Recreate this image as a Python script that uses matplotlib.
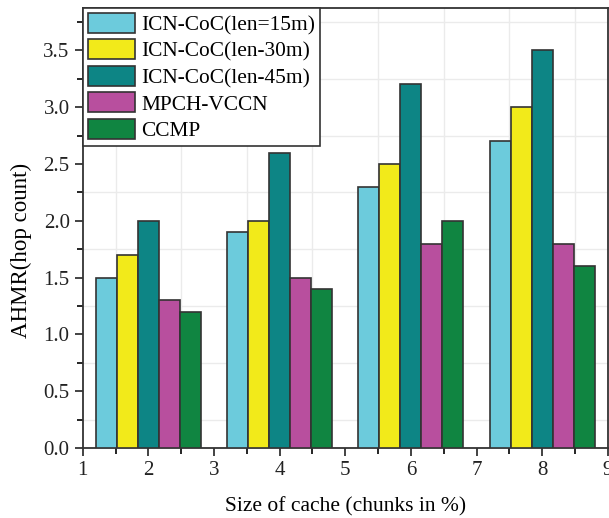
import matplotlib
matplotlib.use('Agg')
import matplotlib.pyplot as plt
import numpy as np
from matplotlib.ticker import MultipleLocator

plt.rcParams['font.family'] = ['Liberation Serif', 'DejaVu Serif']

cache_sizes = [2, 4, 6, 8]
series_names = ['ICN-CoC(len=15m)', 'ICN-CoC(len-30m)', 'ICN-CoC(len-45m)', 'MPCH-VCCN', 'CCMP']
len15 = [1.5, 1.9, 2.3, 2.7]
len30 = [1.7, 2.0, 2.5, 3.0]
len45 = [2.0, 2.6, 3.2, 3.5]
mpch = [1.3, 1.5, 1.8, 1.8]
ccmp = [1.2, 1.4, 2.0, 1.6]
colors = ['#6ccbdc', '#f2ea1a', '#0d8585', '#b84f9e', '#108541']

fig = plt.figure(figsize=(6.09, 5.18), dpi=100)
ax = fig.add_axes([0.136, 0.135, 0.862, 0.849])

width = 0.32
x = np.array(cache_sizes)
for i, (vals, name, c) in enumerate(zip([len15, len30, len45, mpch, ccmp], series_names, colors)):
    ax.bar(x + (i - 2) * width, vals, width, color=c, edgecolor='#333333',
           linewidth=1.2, label=name, zorder=3)

ax.set_xlim(1, 9)
ax.set_ylim(0, 3.87)
ax.xaxis.set_major_locator(MultipleLocator(1))
ax.xaxis.set_minor_locator(MultipleLocator(0.5))
ax.yaxis.set_major_locator(MultipleLocator(0.5))
ax.yaxis.set_minor_locator(MultipleLocator(0.25))
ax.yaxis.set_major_formatter(matplotlib.ticker.FormatStrFormatter('%.1f'))
ax.grid(which='minor', color='#ebebeb', linewidth=1.0, zorder=0)
ax.tick_params(which='major', direction='out', length=6, width=1.2, labelsize=15, colors='#222222')
ax.tick_params(which='minor', direction='out', length=4, width=1.2)

for s in ax.spines.values():
    s.set_linewidth(1.3)
    s.set_color('#333333')

ax.set_xlabel('Size of cache (chunks in %)', fontsize=15.5, labelpad=12)
ax.set_ylabel('AHMR(hop count)', fontsize=16.5)
ax.yaxis.set_label_coords(-0.097, 0.45)

leg = ax.legend(loc='upper left', fontsize=15.4, fancybox=False, edgecolor='#333333',
                framealpha=1, borderaxespad=0, handlelength=2.2, handleheight=1.05,
                labelspacing=0.2, handletextpad=0.3, borderpad=0.22)
leg.get_frame().set_linewidth(1.2)

fig.savefig('out.png', dpi=100)
